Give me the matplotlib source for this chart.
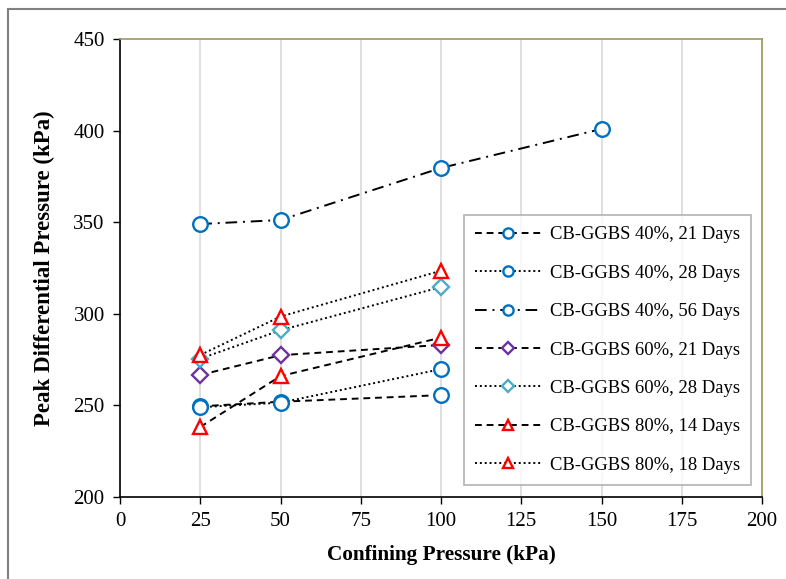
import matplotlib
matplotlib.use("Agg")
import matplotlib.pyplot as plt
from matplotlib.patches import Rectangle

plt.rcParams['font.family'] = ['Liberation Serif', 'DejaVu Serif']

x_main = [25, 50, 100]
x_56 = [25, 50, 100, 150]

labels = ["CB-GGBS 40%, 21 Days", "CB-GGBS 40%, 28 Days", "CB-GGBS 40%, 56 Days",
          "CB-GGBS 60%, 21 Days", "CB-GGBS 60%, 28 Days", "CB-GGBS 80%, 14 Days",
          "CB-GGBS 80%, 18 Days"]
g40_21 = [249.5, 252.0, 255.6]
g40_28 = [249.0, 251.5, 269.8]
g40_56 = [349.0, 351.2, 379.6, 400.9]
g60_21 = [266.6, 277.4, 283.0]
g60_28 = [275.5, 291.0, 314.6]
g80_14 = [238.2, 266.0, 287.0]
g80_18 = [277.5, 298.5, 323.5]

fig = plt.figure(figsize=(7.86, 5.79), dpi=100)
ax = fig.add_axes([120/786, 1-497/579, (762-120)/786, (497-39)/579])

# outer frame
fig.patches.append(Rectangle((8/786, -0.05), 1.1, 1 - 9/579 + 0.05, transform=fig.transFigure,
                             fill=False, edgecolor='#808080', linewidth=1.5))

blue = '#0070C0'
purple = '#7030A0'
cyan = '#4BACC6'
red = '#FF0000'
ms = 10.5
mew = 1.7

dash = (0, (3.5, 2.5))
dot = (0, (1, 1.5))
dashdot = (0, (6, 3, 1, 3))

series = [
    (x_main, g40_21, dash, 'o', blue),
    (x_main, g40_28, dot, 'o', blue),
    (x_56, g40_56, dashdot, 'o', blue),
    (x_main, g60_21, dash, 'D', purple),
    (x_main, g60_28, dot, 'D', cyan),
    (x_main, g80_14, dash, '^', red),
    (x_main, g80_18, dot, '^', red),
]
handles = []
for (xs, ys, ls, mk, col), lab in zip(series, labels):
    msz = ms * (0.8 if mk == 'D' else 1.0)
    h, = ax.plot(xs, ys, linestyle=ls, color='black', linewidth=1.4, marker=mk,
                 markersize=msz, markerfacecolor='white', markeredgecolor=col,
                 markeredgewidth=mew, label=lab, zorder=3)
    handles.append(h)

ax.set_xlim(0, 200)
ax.set_ylim(200, 450)
ax.set_xticks(range(0, 201, 25))
ax.set_yticks(range(200, 451, 50))
ax.xaxis.grid(True, color='#D9D9D9', linewidth=1.2)
ax.set_axisbelow(True)
ax.tick_params(direction='out', length=5, width=1, labelsize=15, colors='black', pad=6)
for s in ['left', 'bottom']:
    ax.spines[s].set_color('black')
    ax.spines[s].set_linewidth(1.2)
for s in ['top', 'right']:
    ax.spines[s].set_color('#9C9A5A')
    ax.spines[s].set_linewidth(1.2)

ax.set_xlabel('Confining Pressure (kPa)', fontsize=15.3, fontweight='bold', labelpad=10)
ax.set_ylabel('Peak Differential Pressure (kPa)', fontsize=16.5, fontweight='bold', labelpad=13)

leg = ax.legend(handles=handles, loc='lower right', bbox_to_anchor=(751/786, 1-485/579),
                bbox_transform=fig.transFigure, fontsize=13.4, frameon=True, fancybox=False,
                edgecolor='#A0A0A0', handlelength=3.55, handletextpad=0.45,
                labelspacing=1.15, borderpad=0.6, markerscale=0.7, borderaxespad=0)
leg.get_frame().set_linewidth(1.2)

fig.savefig('out.png', dpi=100)
